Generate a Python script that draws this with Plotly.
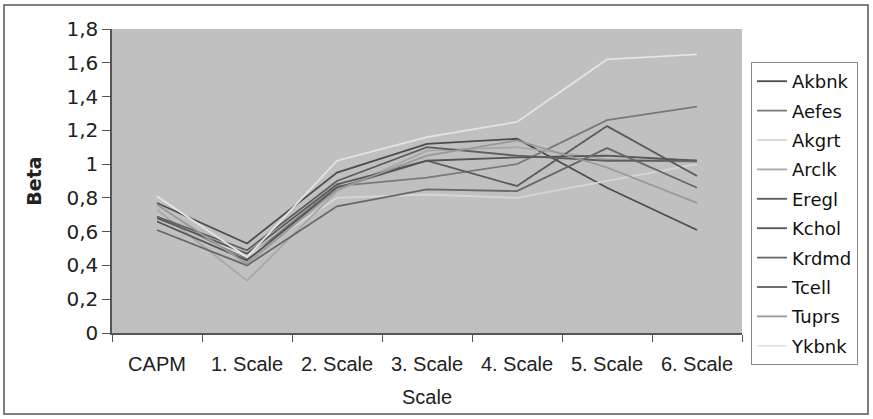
import plotly.graph_objects as go

categories = ["CAPM", "1. Scale", "2. Scale", "3. Scale", "4. Scale", "5. Scale", "6. Scale"]

akbnk = [0.77, 0.53, 0.95, 1.12, 1.15, 0.86, 0.61]
aefes = [0.70, 0.44, 0.87, 0.92, 1.00, 1.26, 1.34]
akgrt = [0.70, 0.45, 0.80, 0.82, 0.80, 0.90, 1.00]
arclk = [0.73, 0.31, 0.84, 1.08, 1.10, 1.03, 1.01]
eregl = [0.68, 0.47, 0.88, 1.02, 0.87, 1.225, 0.93]
kchol = [0.66, 0.43, 0.86, 1.02, 1.04, 1.05, 1.02]
krdmd = [0.61, 0.40, 0.75, 0.85, 0.84, 1.095, 0.86]
tcell = [0.69, 0.49, 0.90, 1.10, 1.05, 1.02, 1.02]
tuprs = [0.76, 0.41, 0.85, 1.05, 1.14, 0.98, 0.77]
ykbnk = [0.81, 0.45, 1.02, 1.16, 1.25, 1.62, 1.65]

series = [
    ("Akbnk", akbnk, "#4d4d4d"),
    ("Aefes", aefes, "#7a7a7a"),
    ("Akgrt", akgrt, "#d6d6d6"),
    ("Arclk", arclk, "#a8a8a8"),
    ("Eregl", eregl, "#5a5a5a"),
    ("Kchol", kchol, "#545454"),
    ("Krdmd", krdmd, "#686868"),
    ("Tcell", tcell, "#5e5e5e"),
    ("Tuprs", tuprs, "#999999"),
    ("Ykbnk", ykbnk, "#e4e4e4"),
]

W, H = 873, 419
ML, MR, MT, MB = 112, 131, 29, 86
PW, PH = W - ML - MR, H - MT - MB

fig = go.Figure()
for name, vals, col in series:
    fig.add_trace(go.Scatter(x=categories, y=vals, name=name, mode="lines",
                             legendgroup=name,
                             line=dict(color=col, width=1.8)))

def px_x(p):
    return (p - ML) / PW

def px_y(p):
    return (H - MB - p) / PH

fig.add_shape(type="rect", xref="paper", yref="paper",
              x0=px_x(4), x1=px_x(868), y0=px_y(414), y1=px_y(5),
              line=dict(color="#555555", width=1.5), fillcolor="rgba(0,0,0,0)",
              layer="below")

fig.update_layout(
    width=W, height=H,
    margin=dict(l=ML, r=MR, t=MT, b=MB),
    paper_bgcolor="white",
    plot_bgcolor="#c0c0c0",
    showlegend=True,
    legend=dict(x=px_x(751), y=px_y(62), xanchor="left", yanchor="top",
                bordercolor="#8a8a8a", borderwidth=1, bgcolor="white",
                font=dict(family="DejaVu Sans", size=18, color="#111111"),
                tracegroupgap=3, itemwidth=30),
    xaxis=dict(
        type="category", range=[-0.5, 6.5], tickson="boundaries",
        ticks="outside", ticklen=7, tickcolor="#555555",
        showline=True, linecolor="#555555", linewidth=1.5,
        showgrid=False, zeroline=False,
        ticklabelstandoff=12,
        tickfont=dict(family="Liberation Sans", size=20, color="#222222"),
        title=dict(text="Scale", font=dict(family="Liberation Sans", size=20, color="#222222"),
                   standoff=16),
    ),
    yaxis=dict(
        range=[0, 1.8], dtick=0.2, tick0=0,
        ticks="outside", ticklen=8, tickcolor="#555555",
        showline=True, linecolor="#555555", linewidth=1.5,
        showgrid=False, zeroline=False,
        exponentformat="none",
        tickfont=dict(family="DejaVu Sans", size=20, color="#222222"),
        title=dict(text="<b>Beta</b>", font=dict(family="DejaVu Sans", size=19, color="#222222"),
                   standoff=20),
    ),
    separators=", ",
)

fig.write_html("out.html")
